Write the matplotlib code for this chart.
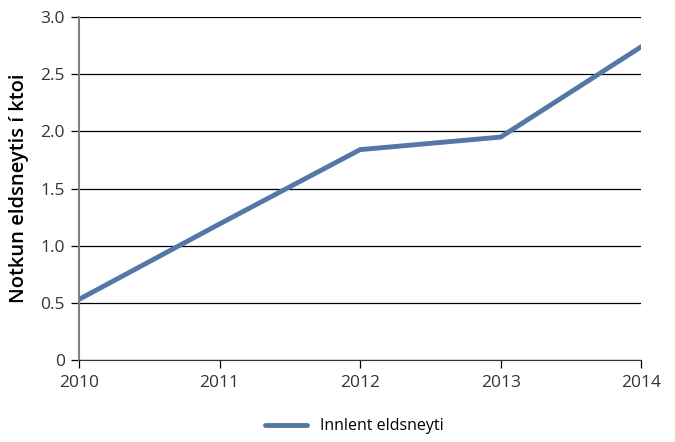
import matplotlib.pyplot as plt
from matplotlib.ticker import FuncFormatter

plt.rcParams['font.family'] = ['Open Sans', 'DejaVu Sans']

# gögn
years = [2010, 2011, 2012, 2013, 2014]
innlent = [0.53, 1.19, 1.84, 1.95, 2.74]
yticks = [0, 0.5, 1.0, 1.5, 2.0, 2.5, 3.0]

fig = plt.figure(figsize=(6.75, 4.42), dpi=100)
ax = fig.add_axes([0.117, 0.1855, 0.833, 0.776])

ax.plot(years, innlent, color='#5577a8', linewidth=3.5, solid_capstyle='round',
        label='Innlent eldsneyti')

ax.set_xlim(2010, 2014)
ax.set_ylim(0, 3.0)
ax.set_xticks(years)
ax.set_yticks(yticks)
ax.yaxis.set_major_formatter(FuncFormatter(lambda v, p: '0' if v == 0 else f'{v:.1f}'))
ax.grid(axis='y', color='black', linewidth=0.9)
ax.set_axisbelow(True)

for s in ['top', 'right']:
    ax.spines[s].set_visible(False)
ax.spines['left'].set_color('#808080')
ax.spines['left'].set_linewidth(1.5)
ax.spines['bottom'].set_color('#333333')

ax.tick_params(axis='y', length=6, width=0.9, color='black', labelsize=12.5, pad=4, colors='#333333')
ax.tick_params(axis='x', length=6, width=0.9, color='black', labelsize=12.5, pad=5, colors='#333333')

ax.set_ylabel('Notkun eldsneytis í ktoi', fontsize=14.5, fontweight='semibold', labelpad=8)

fig.legend(loc='lower center', bbox_to_anchor=(0.525, -0.015), frameon=False, fontsize=11.5,
           handlelength=2.6)

plt.savefig('out.png')
